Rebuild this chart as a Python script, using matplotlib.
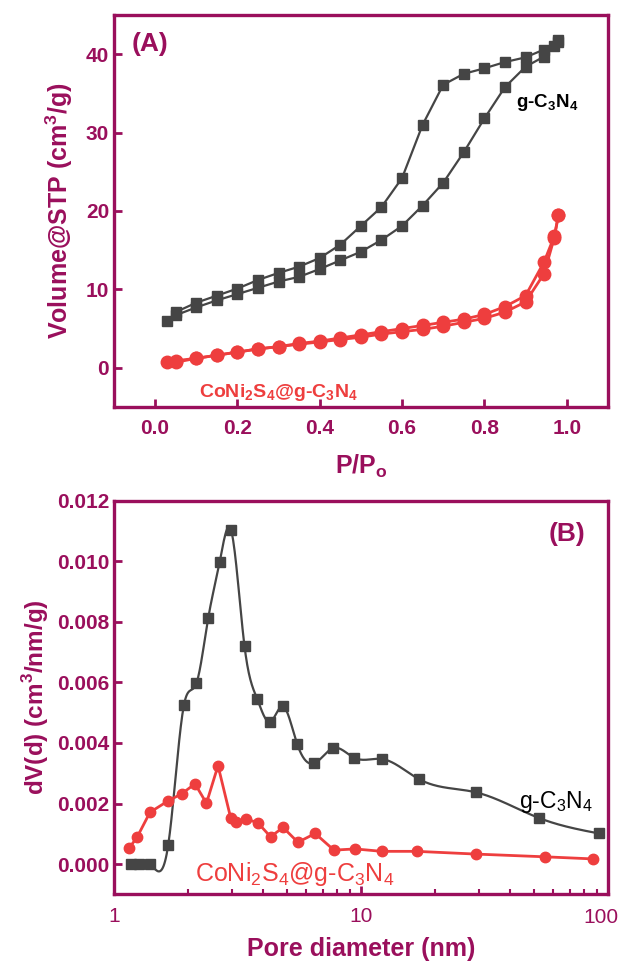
import matplotlib
matplotlib.use("Agg")
import matplotlib.pyplot as plt
import numpy as np
from matplotlib.ticker import LogLocator, NullFormatter

MAG = "#9A0F5C"
GRAY = "#454545"
RED = "#EE3E3E"

# Panel A: N2 isotherms
gcn_ads_p = [0.03, 0.05, 0.1, 0.15, 0.2, 0.25, 0.3, 0.35, 0.4, 0.45, 0.5, 0.55,
             0.6, 0.65, 0.7, 0.75, 0.8, 0.85, 0.9, 0.945, 0.98]
gcn_ads_v = [6.0, 6.7, 7.7, 8.6, 9.4, 10.2, 11.0, 11.6, 12.6, 13.7, 14.8, 16.3,
             18.1, 20.7, 23.6, 27.5, 31.8, 35.8, 38.4, 39.7, 41.5]
gcn_des_p = [0.98, 0.97, 0.945, 0.9, 0.85, 0.8, 0.75, 0.7, 0.65, 0.6, 0.55, 0.5,
             0.45, 0.4, 0.35, 0.3, 0.25, 0.2, 0.15, 0.1, 0.05]
gcn_des_v = [41.8, 41.0, 40.6, 39.6, 39.0, 38.2, 37.5, 36.1, 31.0, 24.2, 20.5, 18.1,
             15.7, 14.0, 12.9, 12.1, 11.2, 10.1, 9.2, 8.3, 7.1]

cns_ads_p = [0.03, 0.05, 0.1, 0.15, 0.2, 0.25, 0.3, 0.35, 0.4, 0.45, 0.5, 0.55,
             0.6, 0.65, 0.7, 0.75, 0.8, 0.85, 0.9, 0.945, 0.97, 0.98]
cns_ads_v = [0.77, 0.7, 1.2, 1.6, 2.0, 2.4, 2.7, 3.0, 3.3, 3.6, 3.9, 4.3,
             4.6, 4.9, 5.3, 5.8, 6.3, 7.1, 8.4, 12.0, 16.6, 19.5]
cns_des_p = [0.98, 0.97, 0.945, 0.9, 0.85, 0.8, 0.75, 0.7, 0.65, 0.6, 0.55, 0.5,
             0.45, 0.4, 0.35, 0.3, 0.25, 0.2, 0.15, 0.1, 0.05]
cns_des_v = [19.5, 16.8, 13.5, 9.2, 7.8, 6.8, 6.2, 5.8, 5.4, 5.0, 4.6, 4.2,
             3.8, 3.4, 3.1, 2.7, 2.4, 2.0, 1.6, 1.2, 0.9]

# Panel B: pore size distribution
gcn_d = [1.17, 1.26, 1.40, 1.66, 1.92, 2.16, 2.41, 2.68, 2.98, 3.38, 3.80, 4.28,
         4.84, 5.52, 6.48, 7.72, 9.40, 12.16, 17.14, 29.2, 52.7, 92.1]
gcn_dv = [0.0, 0.0, 0.0, 0.00064, 0.00524, 0.00598, 0.00813, 0.00997, 0.01103,
          0.00719, 0.00546, 0.00469, 0.00521, 0.00397, 0.00333, 0.00383, 0.00351,
          0.00347, 0.00281, 0.00237, 0.00152, 0.00101]
cns_d = [1.15, 1.24, 1.40, 1.66, 1.88, 2.13, 2.37, 2.64, 2.97, 3.12, 3.44, 3.83,
         4.31, 4.84, 5.56, 6.53, 7.78, 9.47, 12.16, 16.8, 29.2, 55.5, 87.1]
cns_dv = [0.00052, 0.00088, 0.00171, 0.00209, 0.00232, 0.00265, 0.00201, 0.00325,
          0.00153, 0.00140, 0.00149, 0.00136, 0.00090, 0.00121, 0.00072, 0.00101,
          0.00046, 0.00050, 0.00042, 0.00042, 0.00033, 0.00024, 0.00017]

x_ticks_a = [0.0, 0.2, 0.4, 0.6, 0.8, 1.0]
y_ticks_a = [0, 10, 20, 30, 40]
y_ticks_b = [0.0, 0.002, 0.004, 0.006, 0.008, 0.010, 0.012]
x_ticks_b = [1, 10, 100]


def natural_spline(x, y, n=600):
    # natural cubic spline through (x, y), used only to draw the smooth line
    x = np.asarray(x, float)
    y = np.asarray(y, float)
    h = np.diff(x)
    m = len(x)
    A = np.zeros((m, m))
    r = np.zeros(m)
    A[0, 0] = A[-1, -1] = 1
    for i in range(1, m - 1):
        A[i, i - 1] = h[i - 1]
        A[i, i] = 2 * (h[i - 1] + h[i])
        A[i, i + 1] = h[i]
        r[i] = 6 * ((y[i + 1] - y[i]) / h[i] - (y[i] - y[i - 1]) / h[i - 1])
    M = np.linalg.solve(A, r)
    xs = np.linspace(x[0], x[-1], n)
    k = np.clip(np.searchsorted(x, xs) - 1, 0, m - 2)
    t0 = x[k + 1] - xs
    t1 = xs - x[k]
    ys = (M[k] * t0 ** 3 + M[k + 1] * t1 ** 3) / (6 * h[k]) \
        + (y[k] / h[k] - M[k] * h[k] / 6) * t0 \
        + (y[k + 1] / h[k] - M[k + 1] * h[k] / 6) * t1
    return xs, ys


plt.rcParams["font.family"] = ["Liberation Sans", "DejaVu Sans"]
plt.rcParams["font.weight"] = "bold"

fig = plt.figure(figsize=(6.19, 9.63), dpi=100)
ax1 = fig.add_axes([0.184, 0.5774, 0.798, 0.407])
ax2 = fig.add_axes([0.184, 0.0713, 0.798, 0.4087])


def style_axes(ax):
    for s in ax.spines.values():
        s.set_color(MAG)
        s.set_linewidth(2.4)
    ax.tick_params(which="major", direction="in", length=6, width=2, color=MAG,
                   labelcolor=MAG, labelsize=15)
    ax.tick_params(which="minor", direction="in", length=3.5, width=1.5, color=MAG)
    ax.tick_params(axis="x", pad=9)
    for lab in ax.get_xticklabels() + ax.get_yticklabels():
        lab.set_weight("bold")


C3N4 = "g-C$_\\mathregular{3}$N$_\\mathregular{4}$"
CNS = "CoNi$_\\mathregular{2}$S$_\\mathregular{4}$@g-C$_\\mathregular{3}$N$_\\mathregular{4}$"

# ---- Panel A ----
ax1.plot(gcn_ads_p, gcn_ads_v, "-s", color=GRAY, lw=1.6, ms=7.5)
ax1.plot(gcn_des_p, gcn_des_v, "-s", color=GRAY, lw=1.6, ms=7.5)
ax1.plot(cns_ads_p, cns_ads_v, "-o", color=RED, lw=2, ms=9)
ax1.plot(cns_des_p, cns_des_v, "-o", color=RED, lw=2, ms=9)
ax1.set_xlim(-0.1, 1.1)
ax1.set_ylim(-5, 45)
ax1.set_xticks(x_ticks_a)
ax1.set_xticklabels([f"{v:.1f}" for v in x_ticks_a])
ax1.set_yticks(y_ticks_a)
style_axes(ax1)
ax1.set_xlabel("P/P$_\\mathregular{o}$", color=MAG, fontsize=18, fontweight="bold",
               labelpad=10)
ax1.set_ylabel("Volume@STP (cm$^\\mathregular{3}$/g)", color=MAG, fontsize=18,
               fontweight="bold", labelpad=8)
ax1.text(0.035, 0.925, "(A)", transform=ax1.transAxes, color=MAG, fontsize=19,
         fontweight="bold", va="center")
ax1.text(0.815, 0.765, C3N4, transform=ax1.transAxes, color="black", fontsize=13.5,
         fontweight="bold")
ax1.text(0.172, 0.025, CNS, transform=ax1.transAxes, color=RED, fontsize=14,
         fontweight="bold")

# ---- Panel B ----
lx, ly = natural_spline(np.log10(gcn_d), gcn_dv)
ax2.plot(10 ** lx, ly, "-", color=GRAY, lw=1.6)
ax2.plot(gcn_d, gcn_dv, "s", color=GRAY, ms=7.5)
ax2.plot(cns_d, cns_dv, "-o", color=RED, lw=2, ms=7.5)
ax2.set_xscale("log")
ax2.set_xlim(1, 100)
ax2.set_ylim(-0.001, 0.012)
ax2.set_yticks(y_ticks_b)
ax2.set_yticklabels([f"{v:.3f}" for v in y_ticks_b])
ax2.set_xticks(x_ticks_b)
ax2.set_xticklabels(["1", "10", ""])
ax2.xaxis.set_minor_locator(LogLocator(base=10, subs=np.arange(2, 10)))
ax2.xaxis.set_minor_formatter(NullFormatter())
style_axes(ax2)
for lab in ax2.get_xticklabels():
    lab.set_weight("normal")
# last log label sits at the figure edge, keep it inside
ax2.text(1.021, -0.034, "100", transform=ax2.transAxes, ha="right", va="top",
         color=MAG, fontsize=15, fontweight="normal")
ax2.set_xlabel("Pore diameter (nm)", color=MAG, fontsize=18, fontweight="bold",
               labelpad=8)
ax2.set_ylabel("dV(d) (cm$^\\mathregular{3}$/nm/g)", color=MAG, fontsize=17.5,
               fontweight="bold", labelpad=4)
ax2.text(0.88, 0.915, "(B)", transform=ax2.transAxes, color=MAG, fontsize=19,
         fontweight="bold", va="center")
ax2.text(0.82, 0.22, C3N4, transform=ax2.transAxes, color="black", fontsize=16.5,
         fontweight="normal")
ax2.text(0.165, 0.035, CNS, transform=ax2.transAxes, color=RED, fontsize=18,
         fontweight="normal")

fig.savefig("out.png", dpi=100)
